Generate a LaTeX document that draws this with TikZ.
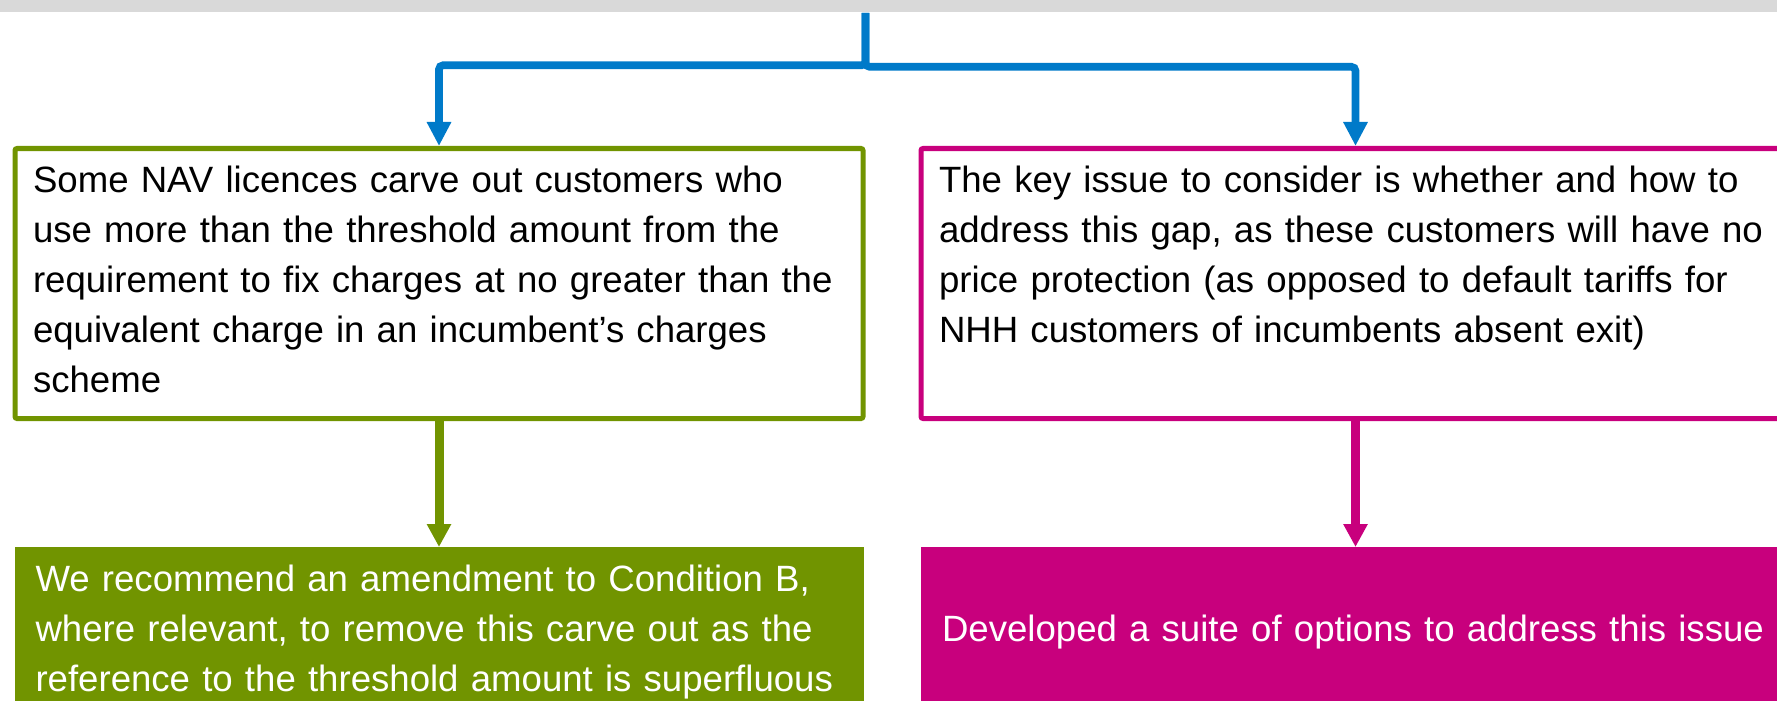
\documentclass[tikz,border=0pt]{standalone}
\usepackage{fontspec}
\setmainfont{Liberation Sans}
\usetikzlibrary{positioning,arrows.meta}

\definecolor{ofgreen}{RGB}{113,148,0}
\definecolor{ofpink}{RGB}{200,0,125}
\definecolor{ofblue}{RGB}{0,122,201}
\definecolor{ofgrey}{RGB}{217,217,217}

\begin{document}
\begin{tikzpicture}[
    x=0.5pt, y=-0.5pt,
    question/.style={rectangle, draw=#1, line width=2.5pt, fill=white, rounded corners=1pt, text width=406pt, inner xsep=9pt, inner ysep=0pt, text height=22pt, text depth=113pt, align=left, font=\fontsize{18.3pt}{25pt}\selectfont},
    answer/.style={rectangle, fill=#1, text=white, text width=403.5pt, inner xsep=10.5pt, minimum height=85pt, align=left, font=\fontsize{18.3pt}{25pt}\selectfont},
    split/.style={-{Triangle[length=12pt,width=11.5pt]}, line width=3.8pt, draw=ofblue, rounded corners=2pt},
    arrow/.style={-{Triangle[length=11.5pt,width=11.5pt]}, line width=4.5pt, draw=#1},
]
\clip (0,0) rectangle (1777,701);

\node[fill=ofgrey, minimum width=888.5pt, minimum height=6pt, inner sep=0pt, anchor=north west] (header) at (0,0) {};

% the two open questions
\node[question=ofgreen, anchor=north west] (carve) at (12.5,146) {Some NAV licences carve out customers who\\use more than the threshold amount from the\\requirement to fix charges at no greater than the\\equivalent charge in an incumbent’s charges\\scheme};
\node[question=ofpink, text width=416.5pt, right=26.5pt of carve] (issue) {The key issue to consider is whether and how to\\address this gap, as these customers will have no\\price protection (as opposed to default tariffs for\\NHH customers of incumbents absent exit)};

% what was done about them
\node[answer=ofgreen, below=63pt of carve] (recommend) {We recommend an amendment to Condition B,\\where relevant, to remove this carve out as the\\reference to the threshold amount is superfluous};
\node[answer=ofpink, text width=413.5pt, below=63pt of issue] (options) {Developed a suite of options to address this issue};

\draw[split] (carve.north east |- header.south) -- ++(0,52.5) -| (carve.north);
\draw[split] (carve.north east |- header.south) -- ++(0,54) -| (issue.north);
\draw[arrow=ofgreen] (carve) -- (recommend);
\draw[arrow=ofpink] (issue) -- (options);
\end{tikzpicture}
\end{document}
